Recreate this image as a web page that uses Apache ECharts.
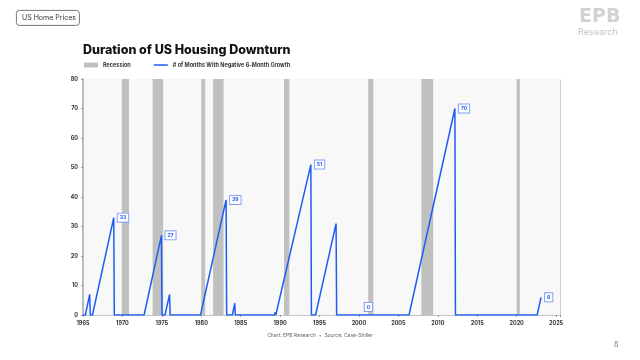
<!DOCTYPE html>
<html><head><meta charset="utf-8">
<script src="https://cdn.jsdelivr.net/npm/echarts@6/dist/echarts.min.js"></script>
<style>html,body{margin:0;padding:0;background:#fff}#c{width:640px;height:360px}</style>
</head><body><div id="c"></div>
<script>
// Data
const recessionStart = [1969.92, 1973.83, 1980.0, 1981.5, 1990.5, 2001.17, 2007.92, 2020.0];
const recessionEnd   = [1970.83, 1975.17, 1980.5, 1982.83, 1991.17, 2001.83, 2009.42, 2020.4];
const monthsX = [1965.0,1965.3,1965.85,1965.92,1966.2,1968.9,1968.97,
  1972.75,1974.95,1975.02,1975.4,1975.98,1976.05,
  1979.9,1983.15,1983.22,1983.95,1984.25,1984.32,
  1989.3,1989.38,1989.45,1989.65,1993.9,1993.97,1994.5,1997.1,1997.17,
  2001.2,
  2006.35,2012.17,2012.24,
  2022.6,2023.1];
const monthsY = [0,0,7,0,0,33,0,
  0,27,0,0,7,0,
  0,39,0,0,4,0,
  0,1,0,0,51,0,0,31,0,
  0,
  0,70,0,
  0,6];
const labeledX = [1968.9, 1974.95, 1983.15, 1993.9, 2001.2, 2012.17, 2023.1];
const xTicks = [1965,1970,1975,1980,1985,1990,1995,2000,2005,2010,2015,2020,2025];

const blue = '#1f5cf7';
const chart = echarts.init(document.getElementById('c'));
const lineData = monthsX.map((x,i)=>{
  const d = {value:[x, monthsY[i]]};
  if (labeledX.indexOf(x) >= 0) {
    d.label = {show:true, position: monthsY[i] === 0 ? 'top' : 'right', distance: 4,
      formatter: String(monthsY[i]), color: blue, fontSize: 5, fontWeight: 'bold',
      backgroundColor:'#fff', borderColor:'#7fa2f5', borderWidth:1, padding:[2,2,1,2]};
  }
  return d;
});
const areas = recessionStart.map((s,i)=>[{xAxis:s},{xAxis:recessionEnd[i]}]);
const font = 'Inter, "Open Sans", sans-serif';
chart.setOption({
  animation:false,
  textStyle:{fontFamily:font},
  title:{text:'Duration of US Housing Downturn', left:83, top:44, padding:0,
    textStyle:{fontSize:12.5, fontWeight:800, color:'#111', fontFamily:font}},
  legend:{left:84, top:62, padding:0, itemWidth:14, itemHeight:5, itemGap:23, symbolKeepAspect:true,
    textStyle:{fontSize:5.5, color:'#333', fontWeight:'bold'},
    data:[{name:'Recession', icon:'rect', itemStyle:{color:'#c0c0c0'}},
          {name:'# of Months With Negative 6-Month Growth', icon:'path://M0,0H28V3H0Z', itemStyle:{color:blue}}]},
  grid:{left:83, right:80, top:79, bottom:45, show:true, backgroundColor:'#f8f8f8', borderWidth:0},
  xAxis:[{type:'value', min:1965, max:2025.5, interval:5,
      axisLine:{show:true, lineStyle:{color:'#c8c8c8', width:1}},
      axisTick:{show:true, length:2, lineStyle:{color:'#999'}},
      axisLabel:{fontSize:5.5, color:'#333', fontWeight:'bold', margin:5,
        formatter:v=> xTicks.indexOf(v)>=0 ? String(v) : '', showMaxLabel:true},
      splitLine:{show:false}},
    {type:'value', position:'top', min:1965, max:2025.5,
      axisLine:{show:true, lineStyle:{color:'#c4c4c4', type:'dotted', width:1}},
      axisTick:{show:false}, axisLabel:{show:false}, splitLine:{show:false}}],
  yAxis:[{type:'value', min:0, max:80, interval:10,
      axisLine:{show:true, lineStyle:{color:'#bdbdbd', width:2}},
      axisTick:{show:true, length:2, lineStyle:{color:'#999'}},
      axisLabel:{fontSize:5.5, color:'#333', fontWeight:'bold', margin:5},
      splitLine:{show:false}},
    {type:'value', position:'right', min:0, max:80,
      axisLine:{show:true, lineStyle:{color:'#c4c4c4', type:'dotted', width:1}},
      axisTick:{show:false}, axisLabel:{show:false}, splitLine:{show:false}}],
  series:[
    {name:'Recession', type:'line', data:[], itemStyle:{color:'#c0c0c0'},
      markArea:{silent:true, itemStyle:{color:'#c0c0c0'}, data:areas}},
    {name:'# of Months With Negative 6-Month Growth', type:'line', data:lineData,
      showSymbol:true, symbol:'circle', symbolSize:0.01, lineStyle:{color:blue, width:1.5},
      itemStyle:{color:blue}, z:5, labelLayout:{hideOverlap:false}}
  ],
  graphic:[
    {type:'rect', left:16, top:10, shape:{width:63, height:15, r:3}, style:{fill:'#fff', stroke:'#555', lineWidth:0.8}},
    {type:'text', left:22, top:14, style:{text:'US Home Prices', fontSize:7, fill:'#333', fontFamily:font}},
    {type:'text', left:579, top:8, style:{text:'EPB', fontSize:19, fontWeight:900, fill:'#d2d2d2', fontFamily:'"DejaVu Sans", sans-serif'}},
    {type:'text', left:578, top:28, style:{text:'Research', fontSize:9, fill:'#c4c4c4', fontFamily:font}},
    {type:'text', left:'center', top:333, style:{text:'Chart: EPB Research  •  Source: Case-Shiller', fontSize:5, fill:'#666', fontFamily:font}},
    {type:'text', left:614, top:341, style:{text:'8', fontSize:7, fill:'#777', fontFamily:font}}
  ]
});
</script></body></html>
